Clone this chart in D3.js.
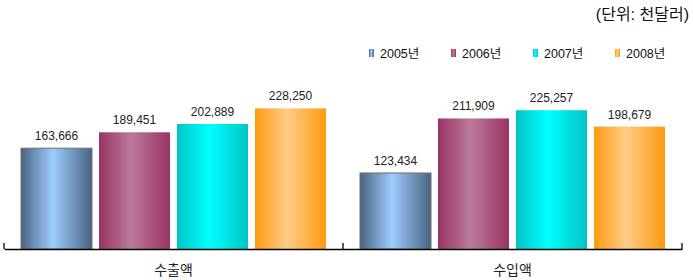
<!DOCTYPE html>
<html lang="ko">
<head>
<meta charset="utf-8" />
<style>
  body { margin: 0; background: #fff; }
  text { font-family: "Liberation Sans", Arial, "Noto Sans CJK KR", sans-serif; }
</style>
</head>
<body>
<script src="https://d3js.org/d3.v7.min.js"></script>
<div id="chart"></div>
<script>
// data
const categories = ["수출액", "수입액"];
const years = ["2005년", "2006년", "2007년", "2008년"];
const values = {
  "2005년": [163666, 123434],
  "2006년": [189451, 211909],
  "2007년": [202889, 225257],
  "2008년": [228250, 198679]
};
const unitLabel = "(단위: 천달러)";

// colours: [edge, centre]
const colors = [
  ["#4a6482", "#9cccff"],
  ["#993366", "#bb7a9a"],
  ["#00c4c4", "#00ffff"],
  ["#ff9a10", "#ffcc88"]
];

const width = 693, height = 280;
const margin = { top: 95, right: 11, bottom: 31, left: 4 };

const svg = d3.select("#chart").append("svg")
  .attr("width", width)
  .attr("height", height);

// gradients for the cylinder look
const defs = svg.append("defs");
colors.forEach((c, i) => {
  const g = defs.append("linearGradient")
    .attr("id", "grad" + i)
    .attr("x1", "0%").attr("x2", "100%").attr("y1", "0%").attr("y2", "0%");
  g.append("stop").attr("offset", "0%").attr("stop-color", c[0]);
  g.append("stop").attr("offset", "45%").attr("stop-color", c[1]);
  g.append("stop").attr("offset", "100%").attr("stop-color", c[0]);
});

const x0 = d3.scaleBand()
  .domain(categories)
  .range([margin.left, width - margin.right]);

const x1 = d3.scaleBand()
  .domain(years)
  .range([17, x0.bandwidth() - 17])
  .paddingInner(0.09);

const y = d3.scaleLinear()
  .domain([0, 250000])
  .range([height - margin.bottom, margin.top]);

const groups = svg.selectAll(".grp")
  .data(categories)
  .join("g")
  .attr("class", "grp")
  .attr("transform", d => `translate(${x0(d)},0)`);

groups.selectAll("rect")
  .data((d, ci) => years.map((yr, i) => ({ yr, i, v: values[yr][ci] })))
  .join("rect")
  .attr("x", d => x1(d.yr))
  .attr("y", d => y(d.v))
  .attr("width", x1.bandwidth())
  .attr("height", d => y(0) - y(d.v))
  .attr("fill", d => `url(#grad${d.i})`)
  .attr("stroke", d => d.i === 0 ? "#707070" : "none")
  .attr("stroke-width", 1);

groups.selectAll(".val")
  .data((d, ci) => years.map((yr, i) => ({ yr, i, v: values[yr][ci] })))
  .join("text")
  .attr("class", "val")
  .attr("x", d => x1(d.yr) + x1.bandwidth() / 2)
  .attr("y", d => y(d.v) - 8)
  .attr("text-anchor", "middle")
  .attr("font-size", 12)
  .attr("fill", "#222")
  .text(d => d3.format(",")(d.v));

// x axis
const axis = svg.append("g")
  .attr("transform", `translate(0,${y(0)})`)
  .call(d3.axisBottom(x0).tickSize(0).tickPadding(16));
axis.select(".domain").attr("stroke", "#000").attr("stroke-width", 1.3);
axis.selectAll("text")
  .attr("font-family", "'Noto Sans CJK KR', sans-serif")
  .attr("font-size", 14)
  .attr("fill", "#222");

// boundary ticks going up
const tickXs = categories.map(c => x0(c)).concat([x0.range()[1]]);
svg.append("g").selectAll("line")
  .data(tickXs)
  .join("line")
  .attr("x1", d => d).attr("x2", d => d)
  .attr("y1", y(0)).attr("y2", y(0) - 6)
  .attr("stroke", "#000").attr("stroke-width", 1.3);

// legend
const legend = svg.append("g").attr("transform", "translate(369,49)");
const item = legend.selectAll("g")
  .data(years)
  .join("g")
  .attr("transform", (d, i) => `translate(${i * 82},0)`);
item.append("rect")
  .attr("width", 5).attr("height", 8)
  .attr("fill", (d, i) => `url(#grad${i})`);
item.append("text")
  .attr("x", 11).attr("y", 8.5)
  .attr("font-size", 12.5)
  .attr("fill", "#111")
  .text(d => d);

// unit label
svg.append("text")
  .attr("x", 689).attr("y", 20)
  .attr("text-anchor", "end")
  .attr("font-family", "'Noto Sans CJK KR', serif")
  .attr("font-size", 16)
  .attr("fill", "#111")
  .text(unitLabel);
</script>
</body>
</html>
